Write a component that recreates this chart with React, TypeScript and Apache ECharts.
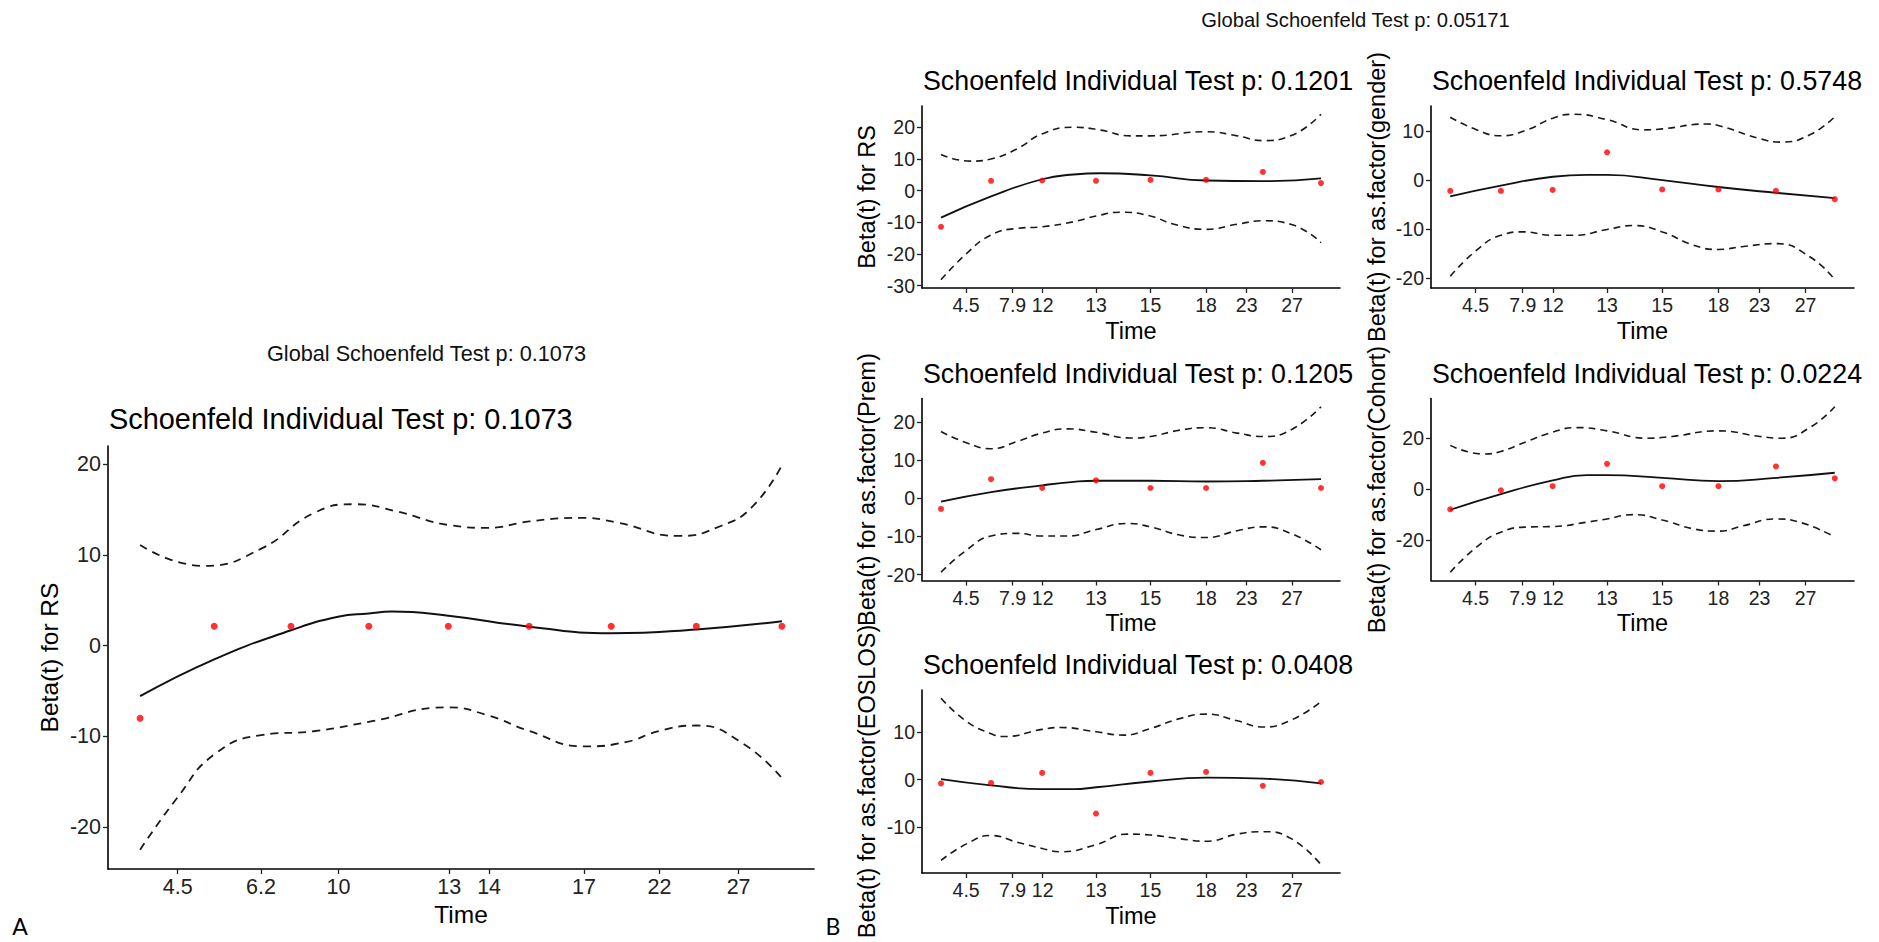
import React, { useEffect, useRef } from 'react';
import * as echarts from 'echarts';

type Pt = [number, number];

// ---------- Panel A (single covariate model) ----------
// Time is drawn on the transformed (rank) scale, 0..100 between first and last event.
const timeA = [0, 11.55, 23.51, 35.64, 48.02, 60.63, 73.4, 86.67, 100];
const tickPosA = [5.86, 18.83, 30.9, 48.16, 54.38, 69.15, 80.92, 93.25];
const tickLabelsA = ['4.5', '6.2', '10', '13', '14', '17', '22', '27'];
const yTicksA = [-20, -10, 0, 10, 20];
const residA = [-8.0, 2.14, 2.14, 2.14, 2.14, 2.14, 2.14, 2.14, 2.14];
const fitA: Pt[] = [[0, -5.57], [11.55, -1.5], [23.51, 1.7], [30.84, 3.2], [35.64, 3.56], [39.2, 3.77], [48.02, 3.3], [60.63, 2.1], [73.4, 1.37], [86.67, 1.8], [100, 2.7]];
const upperA: Pt[] = [[0, 11.1], [9.93, 8.8], [18.88, 10.7], [27.01, 14.6], [33.52, 15.6], [40.03, 14.8], [48.17, 13.3], [54.27, 13.0], [60.63, 13.7], [68.51, 14.1], [74.21, 13.6], [83.97, 12.1], [90.48, 13.2], [95.36, 15.3], [100, 19.9]];
const lowerA: Pt[] = [[0, -22.5], [5.86, -16.7], [11.55, -12.0], [18.88, -9.86], [27.01, -9.43], [35.64, -8.4], [48.02, -6.8], [54.27, -7.7], [60.63, -9.4], [69.16, -11.1], [75.83, -10.6], [80.88, -9.4], [86.67, -8.8], [93.76, -10.7], [100, -14.6]];

// ---------- Panel B (multivariable model) ----------
const timeB = [0, 13.17, 26.63, 40.79, 55.12, 69.75, 84.7, 100];
const tickPosB = [6.6, 18.85, 26.75, 40.8, 55.12, 69.75, 80.45, 92.4];
const tickLabelsB = ['4.5', '7.9', '12', '13', '15', '18', '23', '27'];

// RS
const yTicksRS = [-30, -20, -10, 0, 10, 20];
const residRS = [-11.4, 3.1, 3.2, 3.1, 3.4, 3.4, 5.9, 2.4];
const fitRS: Pt[] = [[0, -8.5], [13.17, -1.8], [26.6, 3.6], [34.94, 5.1], [41.97, 5.5], [55.14, 4.8], [69.8, 3.2], [84.72, 3.0], [100, 3.9]];
const upperRS: Pt[] = [[0, 11.4], [7.73, 9.3], [13.17, 10.0], [20.02, 13.2], [26.6, 17.9], [34.94, 20.0], [41.97, 19.1], [49.87, 17.3], [55.14, 17.3], [69.8, 18.6], [77.96, 17.3], [84.72, 15.8], [92.01, 17.3], [100, 24.1]];
const lowerRS: Pt[] = [[0, -28.1], [6.85, -19.7], [13.17, -14.0], [20.02, -11.9], [26.6, -11.4], [34.94, -9.8], [40.83, -8.0], [47.24, -6.8], [55.14, -8.0], [61.28, -10.6], [69.8, -12.2], [77.96, -10.6], [84.72, -9.5], [92.01, -10.6], [100, -16.4]];

// as.factor(gender)
const yTicksGender = [-20, -10, 0, 10];
const residGender = [-2.2, -2.2, -2.0, 5.7, -1.9, -1.9, -2.2, -3.9];
const fitGender: Pt[] = [[0, -3.3], [13.16, -1.1], [26.67, 0.7], [35.5, 1.1], [40.78, 1.1], [55.15, 0], [69.7, -1.4], [84.76, -2.6], [100, -3.7]];
const upperGender: Pt[] = [[0, 12.9], [6.93, 10.3], [13.16, 9.1], [19.91, 10.3], [26.67, 12.7], [32.03, 13.5], [40.78, 12.4], [50.22, 10.3], [55.15, 10.5], [66.67, 11.5], [69.7, 11.2], [80.52, 8.5], [86.15, 7.8], [93.51, 9.3], [100, 13.0]];
const lowerGender: Pt[] = [[0, -19.7], [6.93, -14.3], [13.16, -11.3], [19.05, -10.6], [26.67, -11.3], [32.03, -11.3], [40.78, -10.1], [47.62, -9.3], [55.15, -10.6], [63.2, -13.3], [69.7, -14.2], [76.19, -13.6], [84.76, -13.0], [93.51, -15.7], [100, -20.4]];

// as.factor(Prem)
const yTicksPrem = [-20, -10, 0, 10, 20];
const residPrem = [-2.8, 5.0, 2.7, 4.7, 2.7, 2.7, 9.3, 2.7];
const fitPrem: Pt[] = [[0, -0.9], [13.17, 1.6], [26.6, 3.4], [34.94, 4.3], [40.83, 4.6], [55.14, 4.6], [69.8, 4.4], [84.72, 4.6], [100, 5.0]];
const upperPrem: Pt[] = [[0, 17.5], [6.85, 14.5], [13.17, 13.0], [20.02, 14.9], [26.6, 17.1], [33.19, 18.2], [40.83, 17.3], [49.87, 15.8], [55.14, 16.2], [63.04, 17.9], [69.8, 18.5], [77.96, 17.1], [84.72, 16.2], [92.01, 17.9], [100, 24.0]];
const lowerPrem: Pt[] = [[0, -19.4], [6.85, -13.5], [13.17, -9.9], [20.02, -9.2], [26.6, -9.9], [33.19, -9.9], [40.83, -8.2], [48.99, -6.6], [55.14, -7.5], [63.04, -9.7], [69.8, -10.3], [77.96, -8.5], [84.72, -7.5], [92.01, -9.2], [100, -13.5]];

// as.factor(Cohort)
const yTicksCohort = [-20, 0, 20];
const residCohort = [-7.9, -0.4, 1.2, 10.0, 1.2, 1.2, 9.0, 4.3];
const fitCohort: Pt[] = [[0, -8.1], [13.16, -1.9], [26.67, 3.5], [35.5, 5.6], [40.78, 5.6], [55.15, 4.5], [69.7, 3.2], [84.76, 4.5], [100, 6.5]];
const upperCohort: Pt[] = [[0, 17.3], [8.66, 13.9], [13.16, 14.9], [19.91, 18.8], [26.67, 22.5], [32.9, 24.3], [40.78, 23.0], [51.3, 20.1], [57.6, 20.8], [69.7, 23.0], [80.52, 20.8], [86.15, 20.1], [93.51, 24.3], [100, 32.5]];
const lowerCohort: Pt[] = [[0, -32.7], [6.93, -22.7], [13.16, -16.9], [19.91, -14.9], [26.67, -14.7], [35.5, -13.0], [40.78, -11.7], [47.62, -10.0], [55.15, -12.1], [63.2, -15.6], [69.7, -16.5], [76.19, -14.4], [84.76, -11.7], [90.91, -13.0], [100, -18.8]];

// as.factor(EOSLOS)
const yTicksEOS = [-10, 0, 10];
const residEOS = [-0.8, -0.7, 1.4, -7.1, 1.4, 1.6, -1.3, -0.5];
const fitEOS: Pt[] = [[0, 0.1], [13.17, -1.2], [26.6, -2.0], [34.94, -2.0], [40.83, -1.6], [55.14, -0.4], [69.8, 0.4], [84.72, 0.2], [100, -0.8]];
const upperEOS: Pt[] = [[0, 17.0], [6.85, 12.1], [13.17, 9.6], [16.5, 9.0], [26.6, 10.5], [31.43, 10.9], [40.83, 10.0], [48.1, 9.3], [55.14, 10.7], [63.04, 12.8], [69.8, 13.7], [77.96, 12.3], [84.72, 11.0], [92.01, 12.4], [100, 16.3]];
const lowerEOS: Pt[] = [[0, -16.9], [6.85, -13.4], [13.17, -11.7], [20.02, -13.1], [26.6, -14.4], [31.43, -15.1], [40.83, -13.6], [48.99, -11.4], [55.14, -11.6], [63.04, -12.4], [69.8, -12.9], [77.96, -11.4], [84.72, -10.9], [92.01, -12.3], [100, -17.8]];

const FONT = "'Liberation Sans', Arial, sans-serif";

interface PanelCfg {
  title: string;
  yName: string;
  time: number[];
  resid: number[];
  fit: Pt[];
  upper: Pt[];
  lower: Pt[];
  tickPos: number[];
  tickLabels: string[];
  yTicks: number[];
  left: number;
  top: number;
  width: number;
  height: number;
  yNameX: number;
  big: boolean;
}

const panels: PanelCfg[] = [
  { title: 'Schoenfeld Individual Test p: 0.1073', yName: 'Beta(t) for RS', time: timeA, resid: residA, fit: fitA, upper: upperA, lower: lowerA, tickPos: tickPosA, tickLabels: tickLabelsA, yTicks: yTicksA, left: 108, top: 446, width: 706, height: 423, yNameX: 49, big: true },
  { title: 'Schoenfeld Individual Test p: 0.1201', yName: 'Beta(t) for RS', time: timeB, resid: residRS, fit: fitRS, upper: upperRS, lower: lowerRS, tickPos: tickPosB, tickLabels: tickLabelsB, yTicks: yTicksRS, left: 922, top: 106, width: 418, height: 182, yNameX: 867, big: false },
  { title: 'Schoenfeld Individual Test p: 0.5748', yName: 'Beta(t) for as.factor(gender)', time: timeB, resid: residGender, fit: fitGender, upper: upperGender, lower: lowerGender, tickPos: tickPosB, tickLabels: tickLabelsB, yTicks: yTicksGender, left: 1431, top: 106, width: 423, height: 182, yNameX: 1377, big: false },
  { title: 'Schoenfeld Individual Test p: 0.1205', yName: 'Beta(t) for as.factor(Prem)', time: timeB, resid: residPrem, fit: fitPrem, upper: upperPrem, lower: lowerPrem, tickPos: tickPosB, tickLabels: tickLabelsB, yTicks: yTicksPrem, left: 922, top: 398.5, width: 418, height: 182, yNameX: 867, big: false },
  { title: 'Schoenfeld Individual Test p: 0.0224', yName: 'Beta(t) for as.factor(Cohort)', time: timeB, resid: residCohort, fit: fitCohort, upper: upperCohort, lower: lowerCohort, tickPos: tickPosB, tickLabels: tickLabelsB, yTicks: yTicksCohort, left: 1431, top: 398.5, width: 423, height: 182, yNameX: 1377, big: false },
  { title: 'Schoenfeld Individual Test p: 0.0408', yName: 'Beta(t) for as.factor(EOSLOS)', time: timeB, resid: residEOS, fit: fitEOS, upper: upperEOS, lower: lowerEOS, tickPos: tickPosB, tickLabels: tickLabelsB, yTicks: yTicksEOS, left: 922, top: 690, width: 418, height: 183, yNameX: 867, big: false },
];

function buildOption() {
  const grid: any[] = [];
  const xAxis: any[] = [];
  const yAxis: any[] = [];
  const series: any[] = [];
  const graphic: any[] = [];

  panels.forEach((p, i) => {
    const tickFont = p.big ? 21.5 : 19.5;
    const nameFont = p.big ? 24.5 : 23.5;
    const titleFont = p.big ? 28.9 : 26.8;
    const lw = p.big ? 2.0 : 1.8;
    const dash = p.big ? [8, 6] : [7, 5];

    const ys = [
      ...p.resid,
      ...p.fit.map((d) => d[1]),
      ...p.upper.map((d) => d[1]),
      ...p.lower.map((d) => d[1]),
    ];
    const lo = Math.min(...ys);
    const hi = Math.max(...ys);
    const pad = (hi - lo) * 0.05;

    grid.push({ left: p.left, top: p.top, width: p.width, height: p.height, containLabel: false });
    xAxis.push({
      gridIndex: i,
      type: 'value',
      min: -5,
      max: 105,
      axisLine: { show: true, onZero: false, lineStyle: { color: '#000', width: 1.6 } },
      axisTick: { show: true, customValues: p.tickPos, length: 5, lineStyle: { color: '#222', width: 1.3 } },
      axisLabel: {
        customValues: p.tickPos,
        formatter: (v: number) => {
          let best = 0;
          p.tickPos.forEach((t, k) => { if (Math.abs(t - v) < Math.abs(p.tickPos[best] - v)) best = k; });
          return p.tickLabels[best];
        },
        fontSize: tickFont,
        fontFamily: FONT,
        color: '#222',
        margin: 7,
      },
      splitLine: { show: false },
    });
    yAxis.push({
      gridIndex: i,
      type: 'value',
      min: lo - pad,
      max: hi + pad,
      axisLine: { show: true, onZero: false, lineStyle: { color: '#000', width: 1.6 } },
      axisTick: { show: true, customValues: p.yTicks, length: 5, lineStyle: { color: '#222', width: 1.3 } },
      axisLabel: {
        customValues: p.yTicks,
        formatter: (v: number) => String(Math.round(v)),
        fontSize: tickFont,
        fontFamily: FONT,
        color: '#222',
        margin: 7,
      },
      splitLine: { show: false },
    });

    const lineBase = { type: 'line', xAxisIndex: i, yAxisIndex: i, smooth: 0.5, symbol: 'none', silent: true };
    series.push({ ...lineBase, data: p.upper, lineStyle: { color: '#1a1a1a', width: lw * 0.9, type: dash } });
    series.push({ ...lineBase, data: p.lower, lineStyle: { color: '#1a1a1a', width: lw * 0.9, type: dash } });
    series.push({ ...lineBase, data: p.fit, lineStyle: { color: '#111', width: lw } });
    series.push({
      type: 'scatter',
      xAxisIndex: i,
      yAxisIndex: i,
      data: p.time.map((t, k) => [t, p.resid[k]]),
      symbolSize: p.big ? 7 : 6,
      itemStyle: { color: '#FF0000' },
      silent: true,
      z: 5,
    });

    graphic.push({
      type: 'text',
      x: p.left + 1,
      y: p.top - (p.big ? 27 : 25),
      style: { text: p.title, fontSize: titleFont, fontFamily: FONT, fill: '#000', align: 'left', verticalAlign: 'middle' },
    });
    graphic.push({
      type: 'text',
      x: p.left + p.width / 2,
      y: p.top + p.height + (p.big ? 45.5 : 42.5),
      style: { text: 'Time', fontSize: nameFont, fontFamily: FONT, fill: '#000', align: 'center', verticalAlign: 'middle' },
    });
    graphic.push({
      type: 'text',
      x: p.yNameX,
      y: p.top + p.height / 2,
      rotation: Math.PI / 2,
      style: { text: p.yName, fontSize: nameFont, fontFamily: FONT, fill: '#000', align: 'center', verticalAlign: 'middle' },
    });
  });

  graphic.push({
    type: 'text', x: 426.5, y: 353.5,
    style: { text: 'Global Schoenfeld Test p: 0.1073', fontSize: 21.7, fontFamily: FONT, fill: '#111', align: 'center', verticalAlign: 'middle' },
  });
  graphic.push({
    type: 'text', x: 1355.5, y: 20,
    style: { text: 'Global Schoenfeld Test p: 0.05171', fontSize: 20.2, fontFamily: FONT, fill: '#111', align: 'center', verticalAlign: 'middle' },
  });
  graphic.push({
    type: 'text', x: 20, y: 926,
    style: { text: 'A', fontSize: 23, fontFamily: "Lato, 'Open Sans', sans-serif", fill: '#000', align: 'center', verticalAlign: 'middle' },
  });
  graphic.push({
    type: 'text', x: 833, y: 926,
    style: { text: 'B', fontSize: 23, fontFamily: "Lato, 'Open Sans', sans-serif", fill: '#000', align: 'center', verticalAlign: 'middle' },
  });

  return {
    animation: false,
    backgroundColor: '#fff',
    grid,
    xAxis,
    yAxis,
    series,
    graphic,
  };
}

export default function App() {
  const ref = useRef<HTMLDivElement>(null);

  useEffect(() => {
    document.body.style.margin = '0';
    if (!ref.current) return;
    const chart = echarts.init(ref.current, undefined, { renderer: 'svg' });
    chart.setOption(buildOption() as any);
    return () => chart.dispose();
  }, []);

  return (
    <div
      ref={ref}
      style={{ position: 'absolute', left: 0, top: 0, width: 1879, height: 942, background: '#fff' }}
    />
  );
}
